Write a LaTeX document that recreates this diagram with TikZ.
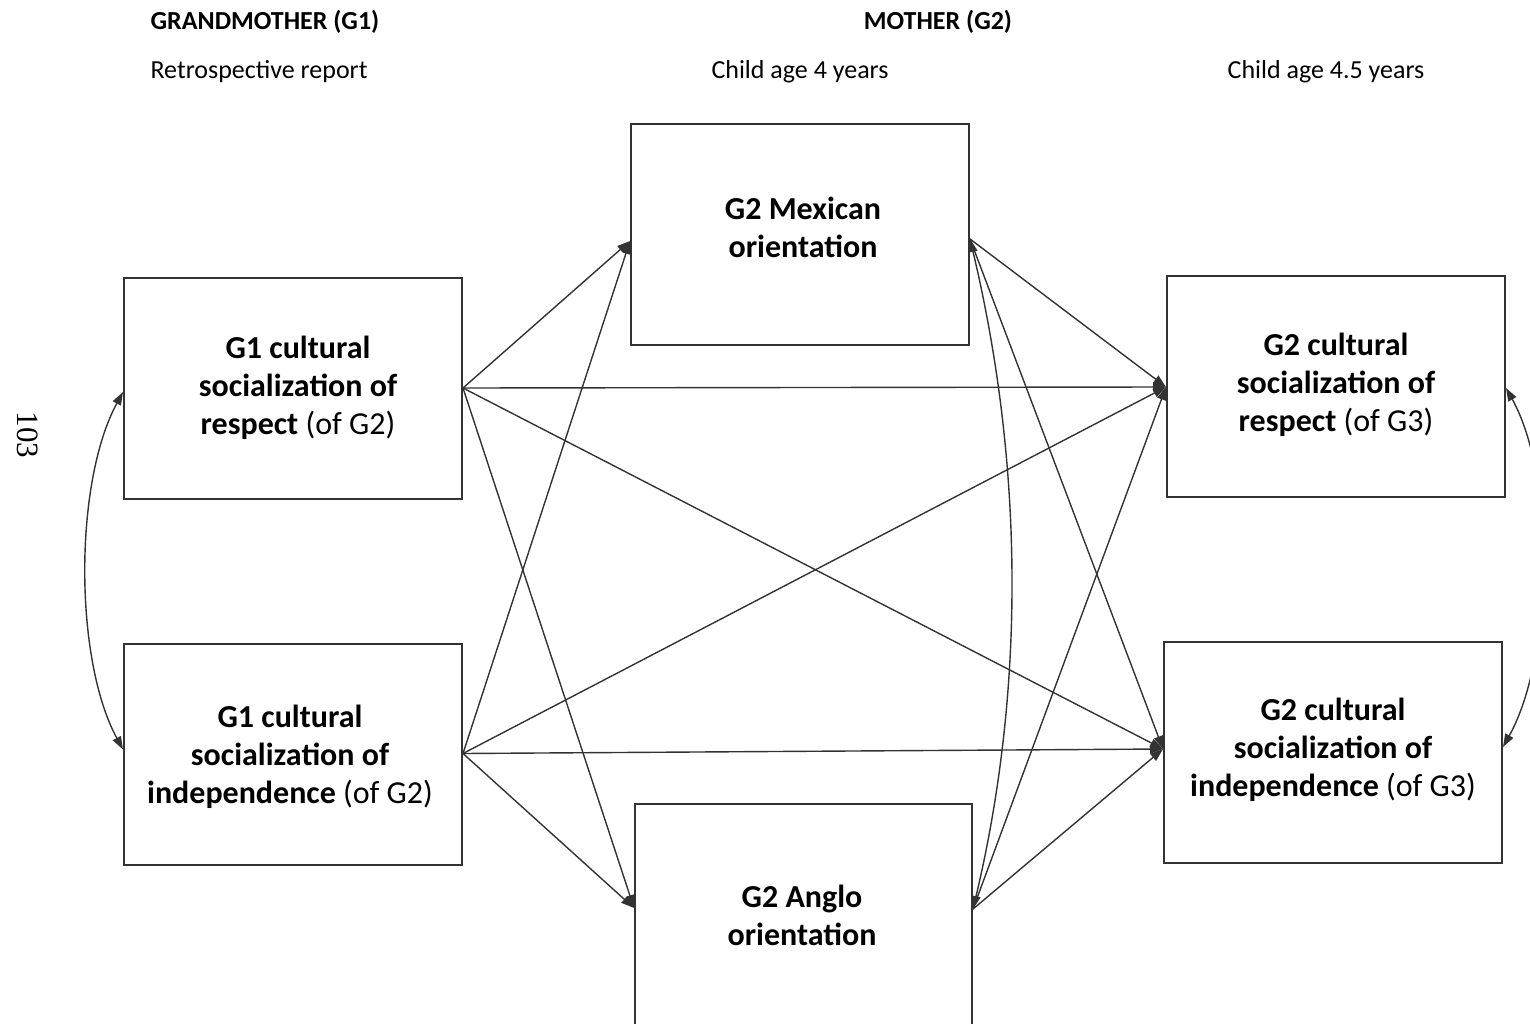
\documentclass[tikz,border=0pt]{standalone}
\usepackage{fontspec}
\setmainfont{Carlito}
\newfontfamily\pagenumfont{Liberation Serif}
\usetikzlibrary{arrows.meta}

\begin{document}
\begin{tikzpicture}[x=1pt,y=-1pt,
  box/.style={draw=black!80, line width=2pt, rectangle, inner sep=0pt,
              minimum width=338pt, minimum height=221pt},
  boxtext/.style={align=center, inner sep=0pt,
                  font=\fontsize{32}{38}\selectfont\bfseries},
  head/.style={anchor=base, inner sep=0pt, font=\fontsize{26}{30}\selectfont\bfseries},
  sub/.style={anchor=base, inner sep=0pt, font=\fontsize{26}{30}\selectfont},
  tip/.tip={Triangle[length=13pt,width=9pt]},
  arr/.style={draw=black!80, line width=1.4pt, -tip},
  cov/.style={draw=black!80, line width=1.4pt, tip-tip},
]
\useasboundingbox (0,0) rectangle (1530,1024);
\clip (0,0) rectangle (1530,1024);

% column headings
\node[head] (hG1) at (265,30) {GRANDMOTHER (G1)};
\node[sub]  (sG1) at (259,79) {Retrospective report};
\node[head] (hG2) at (938,30) {MOTHER (G2)};
\node[sub]  (sG2a) at (800,79) {Child age 4 years};
\node[sub]  (sG2b) at (1326,79) {Child age 4.5 years};

% page number in the margin
\node[font=\pagenumfont\fontsize{31}{31}\selectfont, rotate=-90, inner sep=0pt] (pg) at (28,435) {103};

% boxes
\node[box] (g1r) at (293,388) {};
\node[box] (g1i) at (293,754.5) {};
\node[box] (mex) at (800,234.5) {};
\node[box, minimum width=337pt, minimum height=226pt] (ang) at (803.5,917) {};
\node[box] (g2r) at (1336,386) {};
\node[box] (g2i) at (1333,752.5) {};

% box labels
\node[boxtext] (tg1r) at (298,388) {G1 cultural\\socialization of\\respect \mdseries(of G2)};
\node[boxtext] (tg1i) at (290,757) {G1 cultural\\socialization of\\independence \mdseries(of G2)};
\node[boxtext] (tmex) at (803,227) {G2 Mexican\\orientation};
\node[boxtext] (tang) at (802,915) {G2 Anglo\\orientation};
\node[boxtext] (tg2r) at (1336,385) {G2 cultural\\socialization of\\respect \mdseries(of G3)};
\node[boxtext] (tg2i) at (1333,750) {G2 cultural\\socialization of\\independence \mdseries(of G3)};

% attachment points on the box edges
\coordinate (g1rE) at (g1r.east);
\coordinate (g1iE) at ([yshift=1pt]g1i.east);
\coordinate (mexW) at ([yshift=-6.5pt]mex.west);
\coordinate (mexE) at ([yshift=-4.5pt]mex.east);
\coordinate (angW) at ([yshift=9pt]ang.west);
\coordinate (angE) at ([yshift=8pt]ang.east);
\coordinate (g2rW) at ([yshift=-1pt]g2r.west);
\coordinate (g2iW) at ([yshift=3.5pt]g2i.west);
\coordinate (g1rW) at ([yshift=-4pt]g1r.west);
\coordinate (g1iW) at ([yshift=5pt]g1i.west);
\coordinate (g2rE) at ([yshift=-2pt]g2r.east);
\coordinate (g2iE) at ([yshift=5.5pt]g2i.east);

% paths from G1 socialization
\foreach \s in {g1rE,g1iE}{
  \foreach \t in {mexW,g2rW,g2iW,angW}{
    \draw[arr] (\s) -- (\t);
  }
}
% paths from G2 orientation
\foreach \s in {mexE,angE}{
  \foreach \t in {g2rW,g2iW}{
    \draw[arr] (\s) -- (\t);
  }
}

% covariances
\draw[cov] (g1rW) .. controls +(-49,90) and +(-49,-90) .. (g1iW);
\draw[cov] (mexE) .. controls +(53,223) and +(53,-223) .. (angE);
\draw[cov] (g2rE) .. controls +(50,90) and +(50,-90) .. (g2iE);
\end{tikzpicture}
\end{document}
